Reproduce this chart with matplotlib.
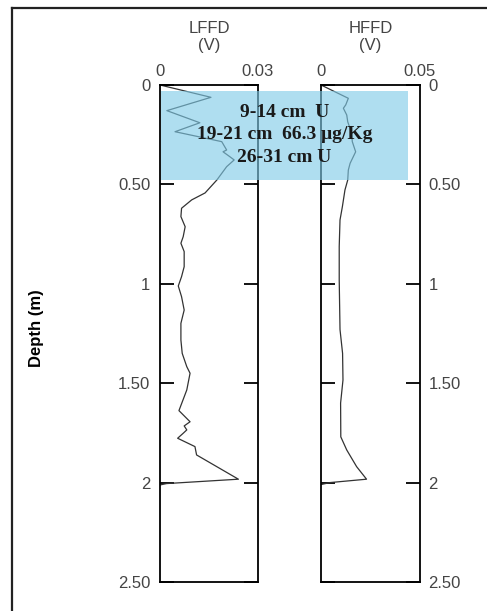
import matplotlib.pyplot as plt
from matplotlib.lines import Line2D
from matplotlib.patches import Rectangle
from matplotlib.transforms import blended_transform_factory

# data (depth in m, signal in V)
lffd_depth = [0, 0.062, 0.129, 0.190, 0.235, 0.285, 0.327, 0.336, 0.361, 0.377,
              0.411, 0.478, 0.543, 0.578, 0.620, 0.662, 0.713, 0.763, 0.796, 0.838,
              0.914, 0.964, 1.011, 1.065, 1.132, 1.199, 1.283, 1.35, 1.417, 1.45,
              1.534, 1.638, 1.694, 1.715, 1.735, 1.752, 1.777, 1.819, 1.861, 1.983,
              2.005, 2.012]
lffd_value = [0, 0.0156, 0.0021, 0.0122, 0.0046, 0.0189, 0.0204, 0.0193, 0.0214, 0.0227,
              0.0204, 0.0174, 0.0138, 0.0097, 0.0066, 0.0064, 0.0077, 0.0071, 0.0064, 0.0074,
              0.0074, 0.0066, 0.0056, 0.0066, 0.0074, 0.0064, 0.0064, 0.0068, 0.0082, 0.0092,
              0.0082, 0.0058, 0.0092, 0.0074, 0.0082, 0.0071, 0.0054, 0.0107, 0.0112, 0.0240,
              0.0020, 0.0]

hffd_depth = [0, 0.067, 0.10, 0.117, 0.151, 0.185, 0.243, 0.285, 0.336, 0.394,
              0.428, 0.478, 0.528, 0.612, 0.679, 0.813, 0.98, 1.23, 1.35, 1.484,
              1.6, 1.77, 1.836, 1.92, 1.983, 2.0, 2.01]
hffd_value = [0, 0.0138, 0.0125, 0.0113, 0.013, 0.0135, 0.0155, 0.0158, 0.0175, 0.0147,
              0.0138, 0.0135, 0.0121, 0.0108, 0.0096, 0.0092, 0.0092, 0.0096, 0.0109, 0.0111,
              0.0099, 0.0100, 0.013, 0.018, 0.0230, 0.0045, 0.0]

depth_ticks = [0, 0.5, 1, 1.5, 2, 2.5]
depth_labels = ['0', '0.50', '1', '1.50', '2', '2.50']

# highlighted interval and notes
band_top, band_bottom = 0.03, 0.48
notes = ['9-14 cm  U', '19-21 cm  66.3 μg/Kg', '26-31 cm U']
note_depths = [0.136, 0.25, 0.367]

grey = '#444444'
plt.rcParams['font.family'] = ['Liberation Sans', 'DejaVu Sans']

fig = plt.figure(figsize=(4.87, 6.11), dpi=100)
ax1 = fig.add_axes([160 / 487, 0.0475, 98 / 487, 0.8134])
ax2 = fig.add_axes([321 / 487, 0.0475, 99 / 487, 0.8134])

for ax, d, v, xmax, title in [(ax1, lffd_depth, lffd_value, 0.03, 'LFFD\n(V)'),
                              (ax2, hffd_depth, hffd_value, 0.05, 'HFFD\n(V)')]:
    ax.plot(v, d, color='#333333', lw=0.9)
    ax.set_xlim(0, xmax)
    ax.set_ylim(2.5, 0)
    ax.xaxis.set_ticks_position('top')
    ax.set_xticks([0, xmax])
    ax.set_xticklabels(['0', '%g' % xmax])
    ax.tick_params(axis='x', length=0, pad=4, labelsize=12, labelcolor=grey)
    ax.set_yticks(depth_ticks)
    ax.tick_params(axis='y', direction='in', length=10, width=1.3, left=True, right=True,
                   labelsize=12, labelcolor=grey, pad=7)
    ax.set_title(title, fontsize=12, color=grey, pad=25, linespacing=1.15)
    for s in ax.spines.values():
        s.set_linewidth(1.3)

ax1.set_yticklabels(depth_labels)
ax2.set_yticklabels(depth_labels)
ax2.tick_params(axis='y', labelleft=False, labelright=True, pad=6)

# blue band over both tracks (figure-level so it sits above both axes)
tr = blended_transform_factory(fig.transFigure, ax1.transData)
fig.add_artist(Rectangle((161 / 487, band_top), 247 / 487, band_bottom - band_top,
                         transform=tr, facecolor='#7fcbe8', alpha=0.62,
                         edgecolor='none', zorder=5))
for txt, y in zip(notes, note_depths):
    fig.text(284.5 / 487, y, txt, transform=tr, ha='center', va='center', fontsize=14,
             fontweight='bold', family='Liberation Serif', color='#1a1a1a', zorder=6)

fig.text(37 / 487, 1 - 328 / 611, 'Depth (m)', rotation=90, ha='center', va='center',
         fontsize=12, fontweight='bold')

# partial frame
fig.add_artist(Line2D([12 / 487, 12 / 487], [0, 1 - 8 / 611], color='#222222', lw=1.6))
fig.add_artist(Line2D([12 / 487, 1], [1 - 8 / 611, 1 - 8 / 611], color='#222222', lw=1.6))

plt.savefig('out.png', dpi=100)
